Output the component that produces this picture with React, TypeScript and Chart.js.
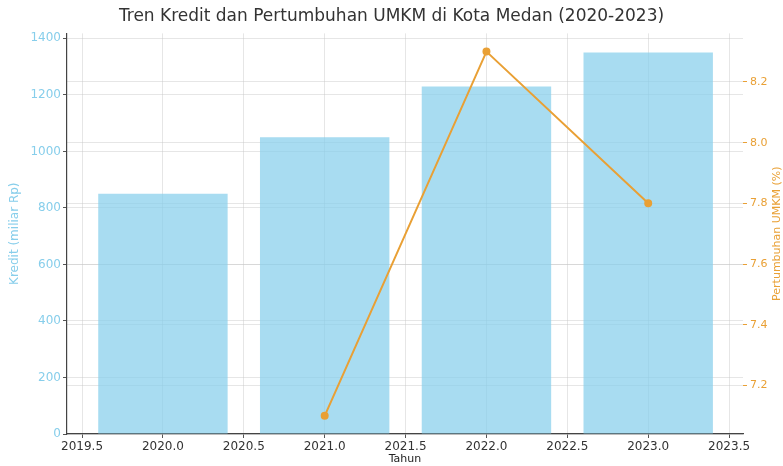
import React, { useEffect, useRef } from "react";
import { Chart, registerables } from "chart.js";

Chart.register(...registerables);

const years = [2020, 2021, 2022, 2023];
const kredit = [850, 1050, 1230, 1350];
const growthYears = [2021, 2022, 2023];
const growth = [7.1, 8.3, 7.8];
const xTicks = [2019.5, 2020.0, 2020.5, 2021.0, 2021.5, 2022.0, 2022.5, 2023.0, 2023.5];
const leftTicks = [0, 200, 400, 600, 800, 1000, 1200, 1400];
const rightTicks = [7.2, 7.4, 7.6, 7.8, 8.0, 8.2];

const TITLE = "Tren Kredit dan Pertumbuhan UMKM di Kota Medan (2020-2023)";
const LEFT_TITLE = "Kredit (miliar Rp)";
const RIGHT_TITLE = "Pertumbuhan UMKM (%)";
const X_TITLE = "Tahun";

const SKY = "#87CEEB";
const ORANGE = "#E9A035";
const FONT = "'DejaVu Sans', sans-serif";

const yTitlesPlugin = {
  id: "yTitles",
  afterDraw(chart: any) {
    const { ctx, chartArea } = chart;
    const cy = (chartArea.top + chartArea.bottom) / 2;
    ctx.save();
    ctx.font = `12px ${FONT}`;
    ctx.textAlign = "center";
    ctx.textBaseline = "middle";
    ctx.fillStyle = SKY;
    ctx.translate(15, cy);
    ctx.rotate(-Math.PI / 2);
    ctx.fillText(LEFT_TITLE, 0, 0);
    ctx.restore();
    ctx.save();
    ctx.font = `11px ${FONT}`;
    ctx.textAlign = "center";
    ctx.textBaseline = "middle";
    ctx.fillStyle = ORANGE;
    ctx.translate(777, cy);
    ctx.rotate(-Math.PI / 2);
    ctx.fillText(RIGHT_TITLE, 0, 0);
    ctx.restore();
  },
};

export default function App() {
  const ref = useRef<HTMLCanvasElement | null>(null);
  useEffect(() => {
    if (!ref.current) return;
    const chart = new Chart(ref.current, {
      type: "bar",
      data: {
        datasets: [
          {
            type: "line",
            label: "Pertumbuhan",
            data: growthYears.map((x, i) => ({ x, y: growth[i] })),
            yAxisID: "y1",
            xAxisID: "x",
            borderColor: ORANGE,
            backgroundColor: ORANGE,
            borderWidth: 2,
            pointRadius: 3,
            pointBackgroundColor: ORANGE,
            pointBorderColor: ORANGE,
            order: 0,
          } as any,
          {
            type: "bar",
            label: "Kredit",
            data: years.map((x, i) => ({ x, y: kredit[i] })),
            yAxisID: "y",
            xAxisID: "x",
            backgroundColor: "rgba(135,206,235,0.72)",
            borderWidth: 0,
            categoryPercentage: 1,
            barPercentage: 1.6,
            order: 1,
          } as any,
        ],
      },
      options: {
        animation: false,
        responsive: false,
        maintainAspectRatio: false,
        layout: { padding: 0 },
        plugins: {
          legend: { display: false },
          tooltip: { enabled: false },
          title: {
            display: true,
            text: TITLE,
            color: "#333",
            font: { family: FONT, size: 17, weight: "normal" },
            padding: { top: 6, bottom: 7 },
          },
        },
        scales: {
          x: {
            type: "linear",
            min: 2019.407,
            max: 2023.586,
            offset: false,
            afterBuildTicks: (s: any) => {
              s.ticks = xTicks.map((v) => ({ value: v }));
            },
            afterFit: (s: any) => {
              s.height = 32;
            },
            ticks: {
              color: "#333",
              font: { family: FONT, size: 12 },
              padding: 2,
              maxRotation: 0,
              autoSkip: false,
              callback: (v: any) => Number(v).toFixed(1),
            },
            grid: {
              offset: false,
              color: "rgba(200,200,200,0.45)",
              tickLength: 4,
              tickColor: "#555",
            },
            border: { display: true, color: "#444", width: 1.2 },
            title: {
              display: true,
              text: X_TITLE,
              color: "#222",
              font: { family: FONT, size: 11 },
              padding: 0,
            },
          },
          y: {
            type: "linear",
            position: "left",
            min: 0,
            max: 1417.5,
            afterBuildTicks: (s: any) => {
              s.ticks = leftTicks.map((v) => ({ value: v }));
            },
            afterFit: (s: any) => {
              s.width = 67;
            },
            ticks: {
              color: SKY,
              font: { family: FONT, size: 12 },
              padding: 2,
              callback: (v: any) => String(v),
            },
            grid: {
              color: "rgba(200,200,200,0.45)",
              tickLength: 4,
              tickColor: "#555",
            },
            border: { display: true, color: "#444", width: 1.2 },
          },
          y1: {
            type: "linear",
            position: "right",
            min: 7.04,
            max: 8.36,
            afterBuildTicks: (s: any) => {
              s.ticks = rightTicks.map((v) => ({ value: v }));
            },
            afterFit: (s: any) => {
              s.width = 40;
            },
            ticks: {
              color: ORANGE,
              font: { family: FONT, size: 11 },
              padding: 3,
              callback: (v: any) => Number(v).toFixed(1),
            },
            grid: {
              color: "rgba(200,200,200,0.45)",
              tickLength: 4,
              tickColor: ORANGE,
            },
            border: { display: false },
          },
        },
      } as any,
      plugins: [yTitlesPlugin],
    });
    return () => chart.destroy();
  }, []);
  return (
    <div style={{ position: "fixed", left: 0, top: 0, width: 783, height: 466, background: "#fff" }}>
      <canvas ref={ref} width={783} height={466} style={{ width: 783, height: 466 }} />
    </div>
  );
}
